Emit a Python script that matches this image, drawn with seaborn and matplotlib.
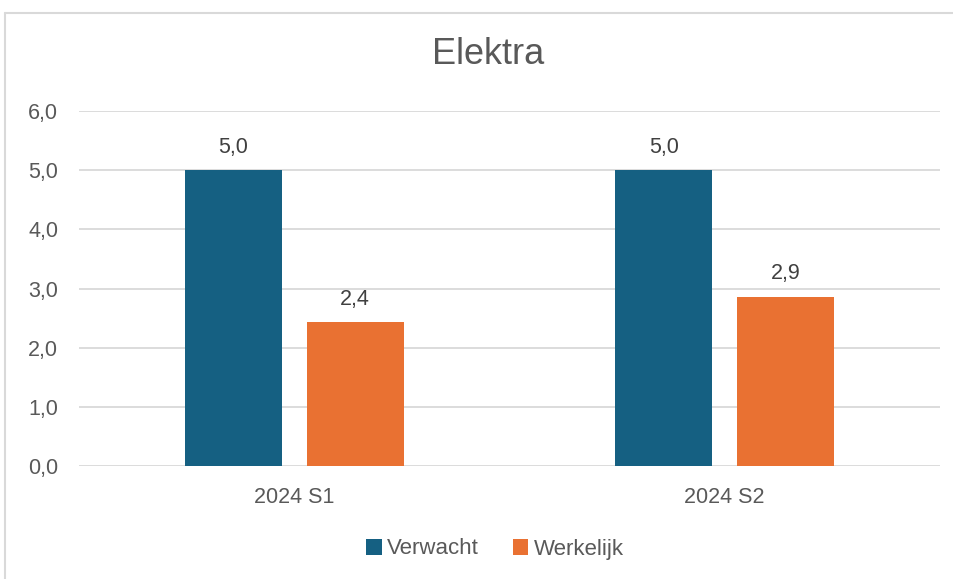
import matplotlib
matplotlib.use("Agg")
import matplotlib.pyplot as plt
from matplotlib.lines import Line2D
from matplotlib.patches import Patch
import seaborn as sns
import pandas as pd

categories = ["2024 S1", "2024 S2"]
series_names = ["Verwacht", "Werkelijk"]
verwacht = [5.0, 5.0]
werkelijk = [2.43, 2.86]
y_ticks = [0, 1, 2, 3, 4, 5, 6]
colors = ["#156082", "#E97132"]
title = "Elektra"

df = pd.DataFrame({
    "cat": categories * 2,
    "serie": [series_names[0]] * 2 + [series_names[1]] * 2,
    "val": verwacht + werkelijk,
})

sns.set_theme(style="white")
plt.rcParams["font.family"] = ["Liberation Sans", "DejaVu Sans"]
text_col = "#595959"
label_col = "#404040"
grid_col = "#D9D9D9"

W, H = 954, 579
fig = plt.figure(figsize=(W / 100, H / 100), dpi=100)
ax = fig.add_axes([79 / W, 113 / H, (940 - 79) / W, (466 - 111) / H])

sns.barplot(data=df, x="cat", y="val", hue="serie", palette=colors,
            width=0.567, gap=0.204, ax=ax, legend=False, saturation=1,
            order=categories, hue_order=series_names, linewidth=0, edgecolor="none")

ax.set_xlim(-0.5, 1.5)
ax.set_ylim(0, 6)
ax.set_yticks(y_ticks)
ax.set_yticklabels([f"{v:.1f}".replace(".", ",") for v in y_ticks])
ax.yaxis.grid(True, color=grid_col, linewidth=1.3)
ax.set_axisbelow(True)
for s in ax.spines.values():
    s.set_visible(False)
ax.tick_params(axis="both", length=0, labelsize=15.5, colors=text_col)
ax.tick_params(axis="y", pad=15)
ax.tick_params(axis="x", pad=15)
ax.set_xlabel("")
ax.set_ylabel("")

for cont in ax.containers:
    ax.bar_label(cont, labels=[f"{b.get_height():.1f}".replace(".", ",") for b in cont],
                 padding=9, fontsize=15.5, color=label_col)

fig.text(488 / W, 1 - 55 / H, title, ha="center", va="center", fontsize=26, color=text_col)

handles = [Patch(facecolor=c, edgecolor="none") for c in colors]
fig.legend(handles, series_names, loc="center", bbox_to_anchor=(495 / W, 1 - 549 / H),
           ncol=2, frameon=False, fontsize=16, handlelength=0.7, handleheight=0.7,
           handletextpad=0.25, columnspacing=1.5, labelcolor=text_col)

# chart border
fig.add_artist(Line2D([5.5 / W, 5.5 / W], [0, 1 - 12.5 / H], color=grid_col, linewidth=1.5,
                      transform=fig.transFigure))
fig.add_artist(Line2D([5.5 / W, 1], [1 - 12.5 / H, 1 - 12.5 / H], color=grid_col, linewidth=1.5,
                      transform=fig.transFigure))

fig.savefig("out.png", dpi=100, facecolor="white")
